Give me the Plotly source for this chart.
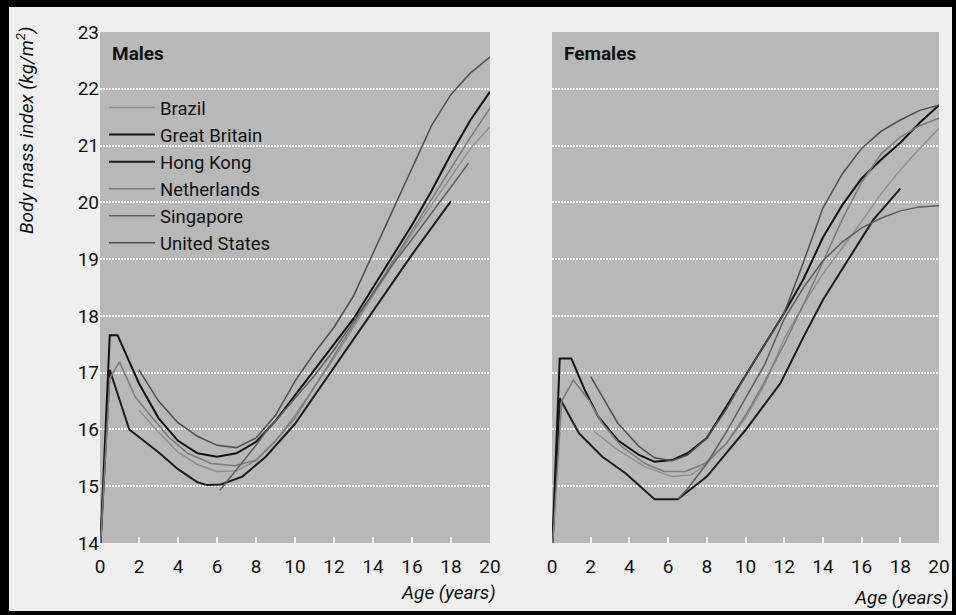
import plotly.graph_objects as go

# ---------------- data ----------------
countries = ["Brazil", "Great Britain", "Hong Kong", "Netherlands", "Singapore", "United States"]

# Males
m_brazil_age = [2, 3, 4, 5, 6, 7, 8, 9, 10, 11, 12, 13, 14, 15, 16, 17, 18, 19, 20]
m_brazil_bmi = [16.34, 15.95, 15.6, 15.38, 15.26, 15.27, 15.45, 15.8, 16.25, 16.75, 17.25, 17.8, 18.35, 18.9, 19.45, 19.95, 20.45, 20.95, 21.33]
m_gb_age = [0, 0.5, 0.9, 2, 3, 4, 5, 6, 7, 8, 9, 10, 11, 12, 13, 14, 15, 16, 17, 18, 19, 20]
m_gb_bmi = [13.8, 17.66, 17.66, 16.81, 16.2, 15.8, 15.58, 15.52, 15.58, 15.78, 16.15, 16.6, 17.05, 17.5, 17.95, 18.5, 19.05, 19.6, 20.2, 20.85, 21.45, 21.95]
m_hk_age = [0, 0.5, 1.5, 3, 4, 5, 5.5, 6.2, 7.3, 8.5, 10, 11, 12, 13, 14, 15, 16, 17, 18]
m_hk_bmi = [13.8, 17.05, 16.0, 15.6, 15.3, 15.07, 15.02, 15.03, 15.17, 15.52, 16.1, 16.6, 17.1, 17.6, 18.1, 18.6, 19.08, 19.55, 20.02]
m_nl_age = [0, 0.5, 1, 1.8, 2.5, 3.5, 4.5, 5.7, 6.9, 8, 9, 10, 11, 12, 13, 14, 15, 16, 17, 18, 19, 20]
m_nl_bmi = [13.8, 16.9, 17.19, 16.58, 16.28, 15.87, 15.58, 15.4, 15.36, 15.46, 15.8, 16.2, 16.75, 17.3, 17.85, 18.4, 18.95, 19.5, 20.05, 20.6, 21.15, 21.66]
m_sg_age = [6.15, 7, 8, 8.5, 9, 10, 11, 12, 13, 14, 15, 16, 17, 18, 18.9]
m_sg_bmi = [14.93, 15.3, 15.72, 15.96, 16.15, 16.55, 16.95, 17.4, 17.9, 18.4, 18.9, 19.35, 19.82, 20.27, 20.69]
m_us_age = [2, 3, 4, 5, 6, 7, 8, 9, 10, 11, 12, 13, 14, 15, 16, 17, 18, 19, 20]
m_us_bmi = [17.05, 16.5, 16.12, 15.88, 15.72, 15.68, 15.85, 16.25, 16.85, 17.35, 17.8, 18.35, 19.1, 19.85, 20.6, 21.35, 21.9, 22.28, 22.56]

# Females
f_brazil_age = [2.2, 3.4, 4.8, 6.2, 7.2, 8, 9, 10, 11, 12, 13, 14, 15, 16, 17, 18, 19, 20]
f_brazil_bmi = [15.96, 15.64, 15.34, 15.17, 15.2, 15.4, 15.75, 16.2, 16.8, 17.6, 18.2, 18.74, 19.2, 19.66, 20.15, 20.57, 20.95, 21.3]
f_gb_age = [0, 0.4, 1.0, 1.7, 2.4, 3.4, 4.5, 5.3, 6.2, 7, 8, 9, 10, 11, 12, 13, 14, 15, 16, 17, 18, 19, 20]
f_gb_bmi = [13.8, 17.25, 17.25, 16.69, 16.22, 15.81, 15.55, 15.43, 15.46, 15.58, 15.85, 16.4, 16.95, 17.5, 18.05, 18.65, 19.38, 19.95, 20.42, 20.75, 21.05, 21.4, 21.71]
f_hk_age = [0, 0.4, 1.4, 2.6, 3.8, 4.6, 5.3, 6.5, 8, 10, 11.8, 13, 14, 15.4, 16.6, 18]
f_hk_bmi = [13.8, 16.55, 15.93, 15.52, 15.23, 14.99, 14.77, 14.77, 15.17, 15.99, 16.81, 17.63, 18.28, 19.04, 19.69, 20.24]
f_nl_age = [0, 0.5, 1.1, 1.9, 2.6, 3.6, 4.8, 5.8, 6.9, 7.9, 9, 10, 11, 12, 13, 14, 15, 16, 17, 18, 19, 20]
f_nl_bmi = [13.8, 16.5, 16.87, 16.52, 16.11, 15.7, 15.4, 15.26, 15.26, 15.4, 15.75, 16.25, 16.85, 17.5, 18.2, 18.95, 19.7, 20.35, 20.85, 21.15, 21.35, 21.48]
f_sg_age = [6.5, 7, 8, 9, 10, 11, 12, 13, 14, 15, 16, 17, 18, 19, 20]
f_sg_bmi = [14.77, 14.95, 15.4, 15.95, 16.55, 17.15, 17.95, 18.5, 18.97, 19.3, 19.55, 19.72, 19.85, 19.92, 19.94]
f_us_age = [2, 2.6, 3.4, 4.5, 5.3, 6.2, 7, 8, 9, 10, 11, 12, 13, 14, 15, 16, 17, 18, 19, 20]
f_us_bmi = [16.93, 16.58, 16.11, 15.7, 15.5, 15.45, 15.55, 15.85, 16.35, 16.95, 17.5, 18.05, 18.95, 19.9, 20.5, 20.95, 21.25, 21.45, 21.62, 21.71]

x_ticks = [0, 2, 4, 6, 8, 10, 12, 14, 16, 18, 20]
y_ticks = [14, 15, 16, 17, 18, 19, 20, 21, 22, 23]

# ---------------- styling ----------------
colors = {"Brazil": "#8e8e8e", "Great Britain": "#111111", "Hong Kong": "#1c1c1c",
          "Netherlands": "#7b7b7b", "Singapore": "#5e5e5e", "United States": "#4f4f4f"}
widths = {"Brazil": 1.4, "Great Britain": 2.0, "Hong Kong": 2.0,
          "Netherlands": 1.5, "Singapore": 1.5, "United States": 1.5}

FONT = "Roboto, Liberation Sans, sans-serif"
W, H = 956, 615
ML, MR, MT, MB = 100, 17, 32, 72
PW, PH = W - ML - MR, H - MT - MB


def px(xp):
    return (xp - ML) / PW


def py(yp):
    return (H - MB - yp) / PH


males = {"Brazil": (m_brazil_age, m_brazil_bmi), "Great Britain": (m_gb_age, m_gb_bmi),
         "Hong Kong": (m_hk_age, m_hk_bmi), "Netherlands": (m_nl_age, m_nl_bmi),
         "Singapore": (m_sg_age, m_sg_bmi), "United States": (m_us_age, m_us_bmi)}
females = {"Brazil": (f_brazil_age, f_brazil_bmi), "Great Britain": (f_gb_age, f_gb_bmi),
           "Hong Kong": (f_hk_age, f_hk_bmi), "Netherlands": (f_nl_age, f_nl_bmi),
           "Singapore": (f_sg_age, f_sg_bmi), "United States": (f_us_age, f_us_bmi)}

fig = go.Figure()
for c in countries:
    a, b = males[c]
    fig.add_trace(go.Scatter(x=a, y=b, mode="lines", name=c, legendgroup=c,
                             line=dict(color=colors[c], width=widths[c]),
                             xaxis="x", yaxis="y"))
for c in countries:
    a, b = females[c]
    fig.add_trace(go.Scatter(x=a, y=b, mode="lines", name=c, legendgroup=c, showlegend=False,
                             line=dict(color=colors[c], width=widths[c]),
                             xaxis="x2", yaxis="y2"))

xcommon = dict(range=[0, 20], tickvals=x_ticks, ticks="inside", ticklen=6, tickwidth=2,
               tickcolor="#f4f4f4", showgrid=False, zeroline=False, showline=False,
               ticklabelstandoff=10, automargin=False,
               tickfont=dict(family=FONT, size=19, color="#111"))
ycommon = dict(range=[14, 23], tickvals=y_ticks, showgrid=True, gridcolor="#f6f6f6",
               gridwidth=2, griddash="2px,1px", zeroline=False, showline=False, ticks="",
               automargin=False,
               tickfont=dict(family=FONT, size=19, color="#111"))

fig.update_layout(
    width=W, height=H,
    margin=dict(l=ML, r=MR, t=MT, b=MB, autoexpand=False),
    paper_bgcolor="#efefef", plot_bgcolor="#b8b8b8",
    xaxis=dict(domain=[0, px(490)], anchor="y", **xcommon),
    xaxis2=dict(domain=[px(552), 1], anchor="y2", **xcommon),
    yaxis=dict(anchor="x", **ycommon),
    yaxis2=dict(anchor="x2", showticklabels=False,
                **{k: v for k, v in ycommon.items() if k != "tickfont"}),
    showlegend=True,
    legend=dict(x=px(104), y=py(89), xanchor="left", yanchor="top",
                bgcolor="rgba(0,0,0,0)", font=dict(family=FONT, size=18.5, color="#111"),
                tracegroupgap=0, itemwidth=46),
    font=dict(family=FONT, color="#111"),
)

annots = [
    dict(text="<b>Males</b>", x=px(110), y=py(53), xanchor="left", yanchor="middle", size=19),
    dict(text="<b>Females</b>", x=px(562), y=py(53), xanchor="left", yanchor="middle", size=19),
    dict(text="<i>Age (years)</i>", x=px(498), y=py(592), xanchor="right", yanchor="middle", size=19),
    dict(text="<i>Age (years)</i>", x=px(951), y=py(597), xanchor="right", yanchor="middle", size=19),
]
for an in annots:
    fig.add_annotation(text=an["text"], x=an["x"], y=an["y"], xref="paper", yref="paper",
                       xanchor=an["xanchor"], yanchor=an["yanchor"], showarrow=False,
                       font=dict(family=FONT, size=an["size"], color="#111"))
fig.add_annotation(text="<i>Body mass index (kg/m<sup>2</sup>)</i>", x=px(25), y=py(130),
                   xref="paper", yref="paper", textangle=-90, showarrow=False,
                   xanchor="center", yanchor="middle",
                   font=dict(family=FONT, size=19, color="#111"))

# black frame around the figure
for (x0, y0, x1, y1) in [(0, 0, W, 7), (0, 0, 9, H), (W - 4, 0, W, H), (0, H - 4, W, H)]:
    fig.add_shape(type="rect", xref="paper", yref="paper", x0=px(x0), x1=px(x1),
                  y0=py(y1), y1=py(y0), fillcolor="#000", line=dict(width=0), layer="above")

fig.write_html("out.html", config={"displayModeBar": False},
               post_script="document.body.style.margin='0px';document.body.style.overflow='hidden';")
